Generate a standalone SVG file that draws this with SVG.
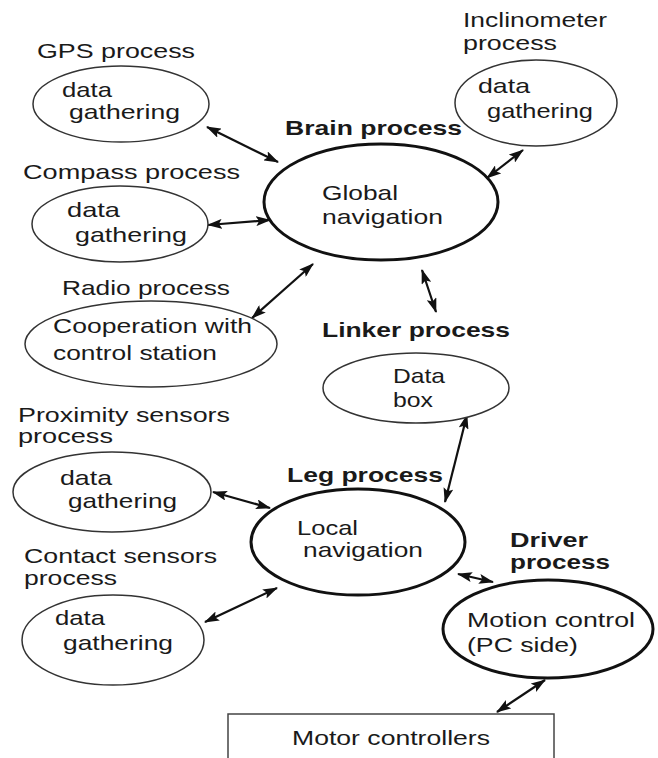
<svg xmlns="http://www.w3.org/2000/svg" width="658" height="758" viewBox="0 0 658 758">
  <defs>
    <marker id="arrowHead" viewBox="0 0 15 10" refX="14" refY="5" markerWidth="15" markerHeight="10" markerUnits="userSpaceOnUse" orient="auto-start-reverse">
      <path d="M0,0 L15,5 L0,10 L3,5 z" fill="#111"/>
    </marker>
  </defs>
  <style>
    text { font-family: "Liberation Sans", Arial, sans-serif; font-size: 21px; fill: #1a1a1a; }
    .bold { font-weight: bold; }
    .thin { fill: #fff; stroke: #333; stroke-width: 1.5; }
    .thick { fill: #fff; stroke: #111; stroke-width: 3; }
    .link { stroke: #111; stroke-width: 2.2; fill: none; marker-start: url(#arrowHead); marker-end: url(#arrowHead); }
    .box { fill: #fff; stroke: #444; stroke-width: 1.5; }
  </style>
  <rect width="658" height="758" fill="#fff"/>

  <!-- connectors -->
  <g id="connectors">
    <line class="link" x1="207" y1="127" x2="278" y2="162"/>
    <line class="link" x1="208" y1="225" x2="270" y2="220"/>
    <line class="link" x1="487" y1="178" x2="523" y2="150"/>
    <line class="link" x1="252" y1="318" x2="313" y2="264"/>
    <line class="link" x1="422" y1="270" x2="436" y2="312"/>
    <line class="link" x1="467" y1="415" x2="445" y2="502"/>
    <line class="link" x1="213" y1="492" x2="270" y2="508"/>
    <line class="link" x1="205" y1="622" x2="277" y2="588"/>
    <line class="link" x1="458" y1="574" x2="493" y2="582"/>
    <line class="link" x1="545" y1="680" x2="497" y2="712"/>
  </g>

  <!-- GPS process -->
  <g id="gps">
    <text x="37" y="58" textLength="158" lengthAdjust="spacingAndGlyphs">GPS process</text>
    <ellipse class="thin" cx="121" cy="104" rx="88" ry="38"/>
    <text x="62" y="97" textLength="50" lengthAdjust="spacingAndGlyphs">data</text>
    <text x="69" y="119" textLength="111" lengthAdjust="spacingAndGlyphs">gathering</text>
  </g>

  <!-- Compass process -->
  <g id="compass">
    <text x="23" y="179" textLength="217" lengthAdjust="spacingAndGlyphs">Compass process</text>
    <ellipse class="thin" cx="120" cy="224" rx="88" ry="38"/>
    <text x="67" y="217" textLength="53" lengthAdjust="spacingAndGlyphs">data</text>
    <text x="75" y="242" textLength="112" lengthAdjust="spacingAndGlyphs">gathering</text>
  </g>

  <!-- Inclinometer process -->
  <g id="inclinometer">
    <text x="463" y="27" textLength="144" lengthAdjust="spacingAndGlyphs">Inclinometer</text>
    <text x="463" y="50" textLength="94" lengthAdjust="spacingAndGlyphs">process</text>
    <ellipse class="thin" cx="536" cy="103" rx="81" ry="43"/>
    <text x="478" y="93" textLength="52" lengthAdjust="spacingAndGlyphs">data</text>
    <text x="487" y="118" textLength="106" lengthAdjust="spacingAndGlyphs">gathering</text>
  </g>

  <!-- Brain process -->
  <g id="brain">
    <text class="bold" x="285" y="135" textLength="177" lengthAdjust="spacingAndGlyphs">Brain process</text>
    <ellipse class="thick" cx="381" cy="202" rx="117" ry="58"/>
    <text x="322" y="200" textLength="76" lengthAdjust="spacingAndGlyphs">Global</text>
    <text x="322" y="224" textLength="121" lengthAdjust="spacingAndGlyphs">navigation</text>
  </g>

  <!-- Radio process -->
  <g id="radio">
    <text x="62" y="295" textLength="168" lengthAdjust="spacingAndGlyphs">Radio process</text>
    <ellipse class="thin" cx="151" cy="344" rx="126" ry="43"/>
    <text x="53" y="333" textLength="199" lengthAdjust="spacingAndGlyphs">Cooperation with</text>
    <text x="53" y="360" textLength="164" lengthAdjust="spacingAndGlyphs">control station</text>
  </g>

  <!-- Linker process -->
  <g id="linker">
    <text class="bold" x="322" y="337" textLength="188" lengthAdjust="spacingAndGlyphs">Linker process</text>
    <ellipse class="thin" cx="416" cy="388" rx="93" ry="35"/>
    <text x="393" y="383" textLength="52" lengthAdjust="spacingAndGlyphs">Data</text>
    <text x="393" y="407" textLength="40" lengthAdjust="spacingAndGlyphs">box</text>
  </g>

  <!-- Proximity sensors process -->
  <g id="proximity">
    <text x="18" y="422" textLength="212" lengthAdjust="spacingAndGlyphs">Proximity sensors</text>
    <text x="18" y="443" textLength="95" lengthAdjust="spacingAndGlyphs">process</text>
    <ellipse class="thin" cx="112" cy="492" rx="99" ry="40"/>
    <text x="60" y="485" textLength="52" lengthAdjust="spacingAndGlyphs">data</text>
    <text x="68" y="508" textLength="109" lengthAdjust="spacingAndGlyphs">gathering</text>
  </g>

  <!-- Leg process -->
  <g id="leg">
    <text class="bold" x="287" y="482" textLength="156" lengthAdjust="spacingAndGlyphs">Leg process</text>
    <ellipse class="thick" cx="358" cy="542" rx="107" ry="53"/>
    <text x="297" y="535" textLength="61" lengthAdjust="spacingAndGlyphs">Local</text>
    <text x="303" y="557" textLength="120" lengthAdjust="spacingAndGlyphs">navigation</text>
  </g>

  <!-- Contact sensors process -->
  <g id="contact">
    <text x="24" y="563" textLength="193" lengthAdjust="spacingAndGlyphs">Contact sensors</text>
    <text x="24" y="585" textLength="93" lengthAdjust="spacingAndGlyphs">process</text>
    <ellipse class="thin" cx="113" cy="640" rx="91" ry="45"/>
    <text x="55" y="625" textLength="50" lengthAdjust="spacingAndGlyphs">data</text>
    <text x="63" y="650" textLength="110" lengthAdjust="spacingAndGlyphs">gathering</text>
  </g>

  <!-- Driver process -->
  <g id="driver">
    <text class="bold" x="510" y="547" textLength="78" lengthAdjust="spacingAndGlyphs">Driver</text>
    <text class="bold" x="510" y="569" textLength="100" lengthAdjust="spacingAndGlyphs">process</text>
    <ellipse class="thick" cx="548" cy="629" rx="105" ry="49"/>
    <text x="467" y="627" textLength="168" lengthAdjust="spacingAndGlyphs">Motion control</text>
    <text x="467" y="652" textLength="111" lengthAdjust="spacingAndGlyphs">(PC side)</text>
  </g>

  <!-- Motor controllers -->
  <g id="motor">
    <rect class="box" x="228" y="714" width="326" height="60"/>
    <text x="292" y="745" textLength="198" lengthAdjust="spacingAndGlyphs">Motor controllers</text>
  </g>
</svg>
